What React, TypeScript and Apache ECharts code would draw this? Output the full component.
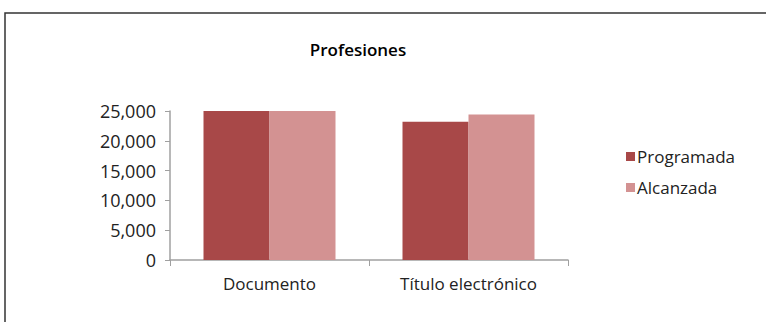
import React, { useEffect, useRef } from "react";
import * as echarts from "echarts";

const categories = ["Documento", "Título electrónico"];
const programada = [25000, 23200];
const alcanzada = [25000, 24400];
const seriesNames = ["Programada", "Alcanzada"];

export default function App() {
  const ref = useRef<HTMLDivElement>(null);
  useEffect(() => {
    document.body.style.margin = "0";
    const chart = echarts.init(ref.current!, null, { renderer: "svg" });
    const font = "Open Sans";
    chart.setOption({
      animation: false,
      backgroundColor: "#ffffff",
      title: {
        text: "Profesiones",
        left: 353,
        top: 36,
        textAlign: "center",
        textStyle: { fontFamily: font, fontSize: 17, fontWeight: 600, color: "#000" },
      },
      legend: {
        orient: "vertical",
        left: 621,
        top: 143,
        itemWidth: 9,
        itemHeight: 9,
        itemGap: 14,
        icon: "rect",
        textStyle: { fontFamily: font, fontSize: 17, color: "#222", padding: [0, 0, 0, -3] },
        data: seriesNames,
      },
      grid: { left: 170, right: 198, top: 111, bottom: 62 },
      xAxis: {
        type: "category",
        data: categories,
        axisLine: { lineStyle: { color: "#a0a0a0", width: 1.5 } },
        axisTick: { show: true, length: 6, lineStyle: { color: "#a0a0a0" } },
        axisLabel: { fontFamily: font, fontSize: 17, color: "#222", margin: 15 },
      },
      yAxis: {
        type: "value",
        min: 0,
        max: 25000,
        interval: 5000,
        splitLine: { show: false },
        axisLine: { show: true, lineStyle: { color: "#a0a0a0", width: 1.5 } },
        axisTick: { show: true, length: 5, lineStyle: { color: "#a0a0a0" } },
        axisLabel: {
          fontFamily: font,
          fontSize: 18,
          color: "#222",
          margin: 14,
          formatter: (v: number) => v.toLocaleString("en-US"),
        },
      },
      series: [
        {
          name: seriesNames[0],
          type: "bar",
          data: programada,
          itemStyle: { color: "#a84848" },
          barWidth: 66,
          barGap: "0%",
        },
        {
          name: seriesNames[1],
          type: "bar",
          data: alcanzada,
          itemStyle: { color: "#d39292" },
          barWidth: 66,
          barGap: "0%",
        },
      ],
      graphic: [
        {
          type: "rect",
          shape: { x: 5, y: 13, width: 900, height: 400 },
          style: { fill: "none", stroke: "#333", lineWidth: 1.5 },
          silent: true,
          z: 100,
        },
      ],
    });
    return () => chart.dispose();
  }, []);
  return <div ref={ref} style={{ width: 766, height: 322 }} />;
}
